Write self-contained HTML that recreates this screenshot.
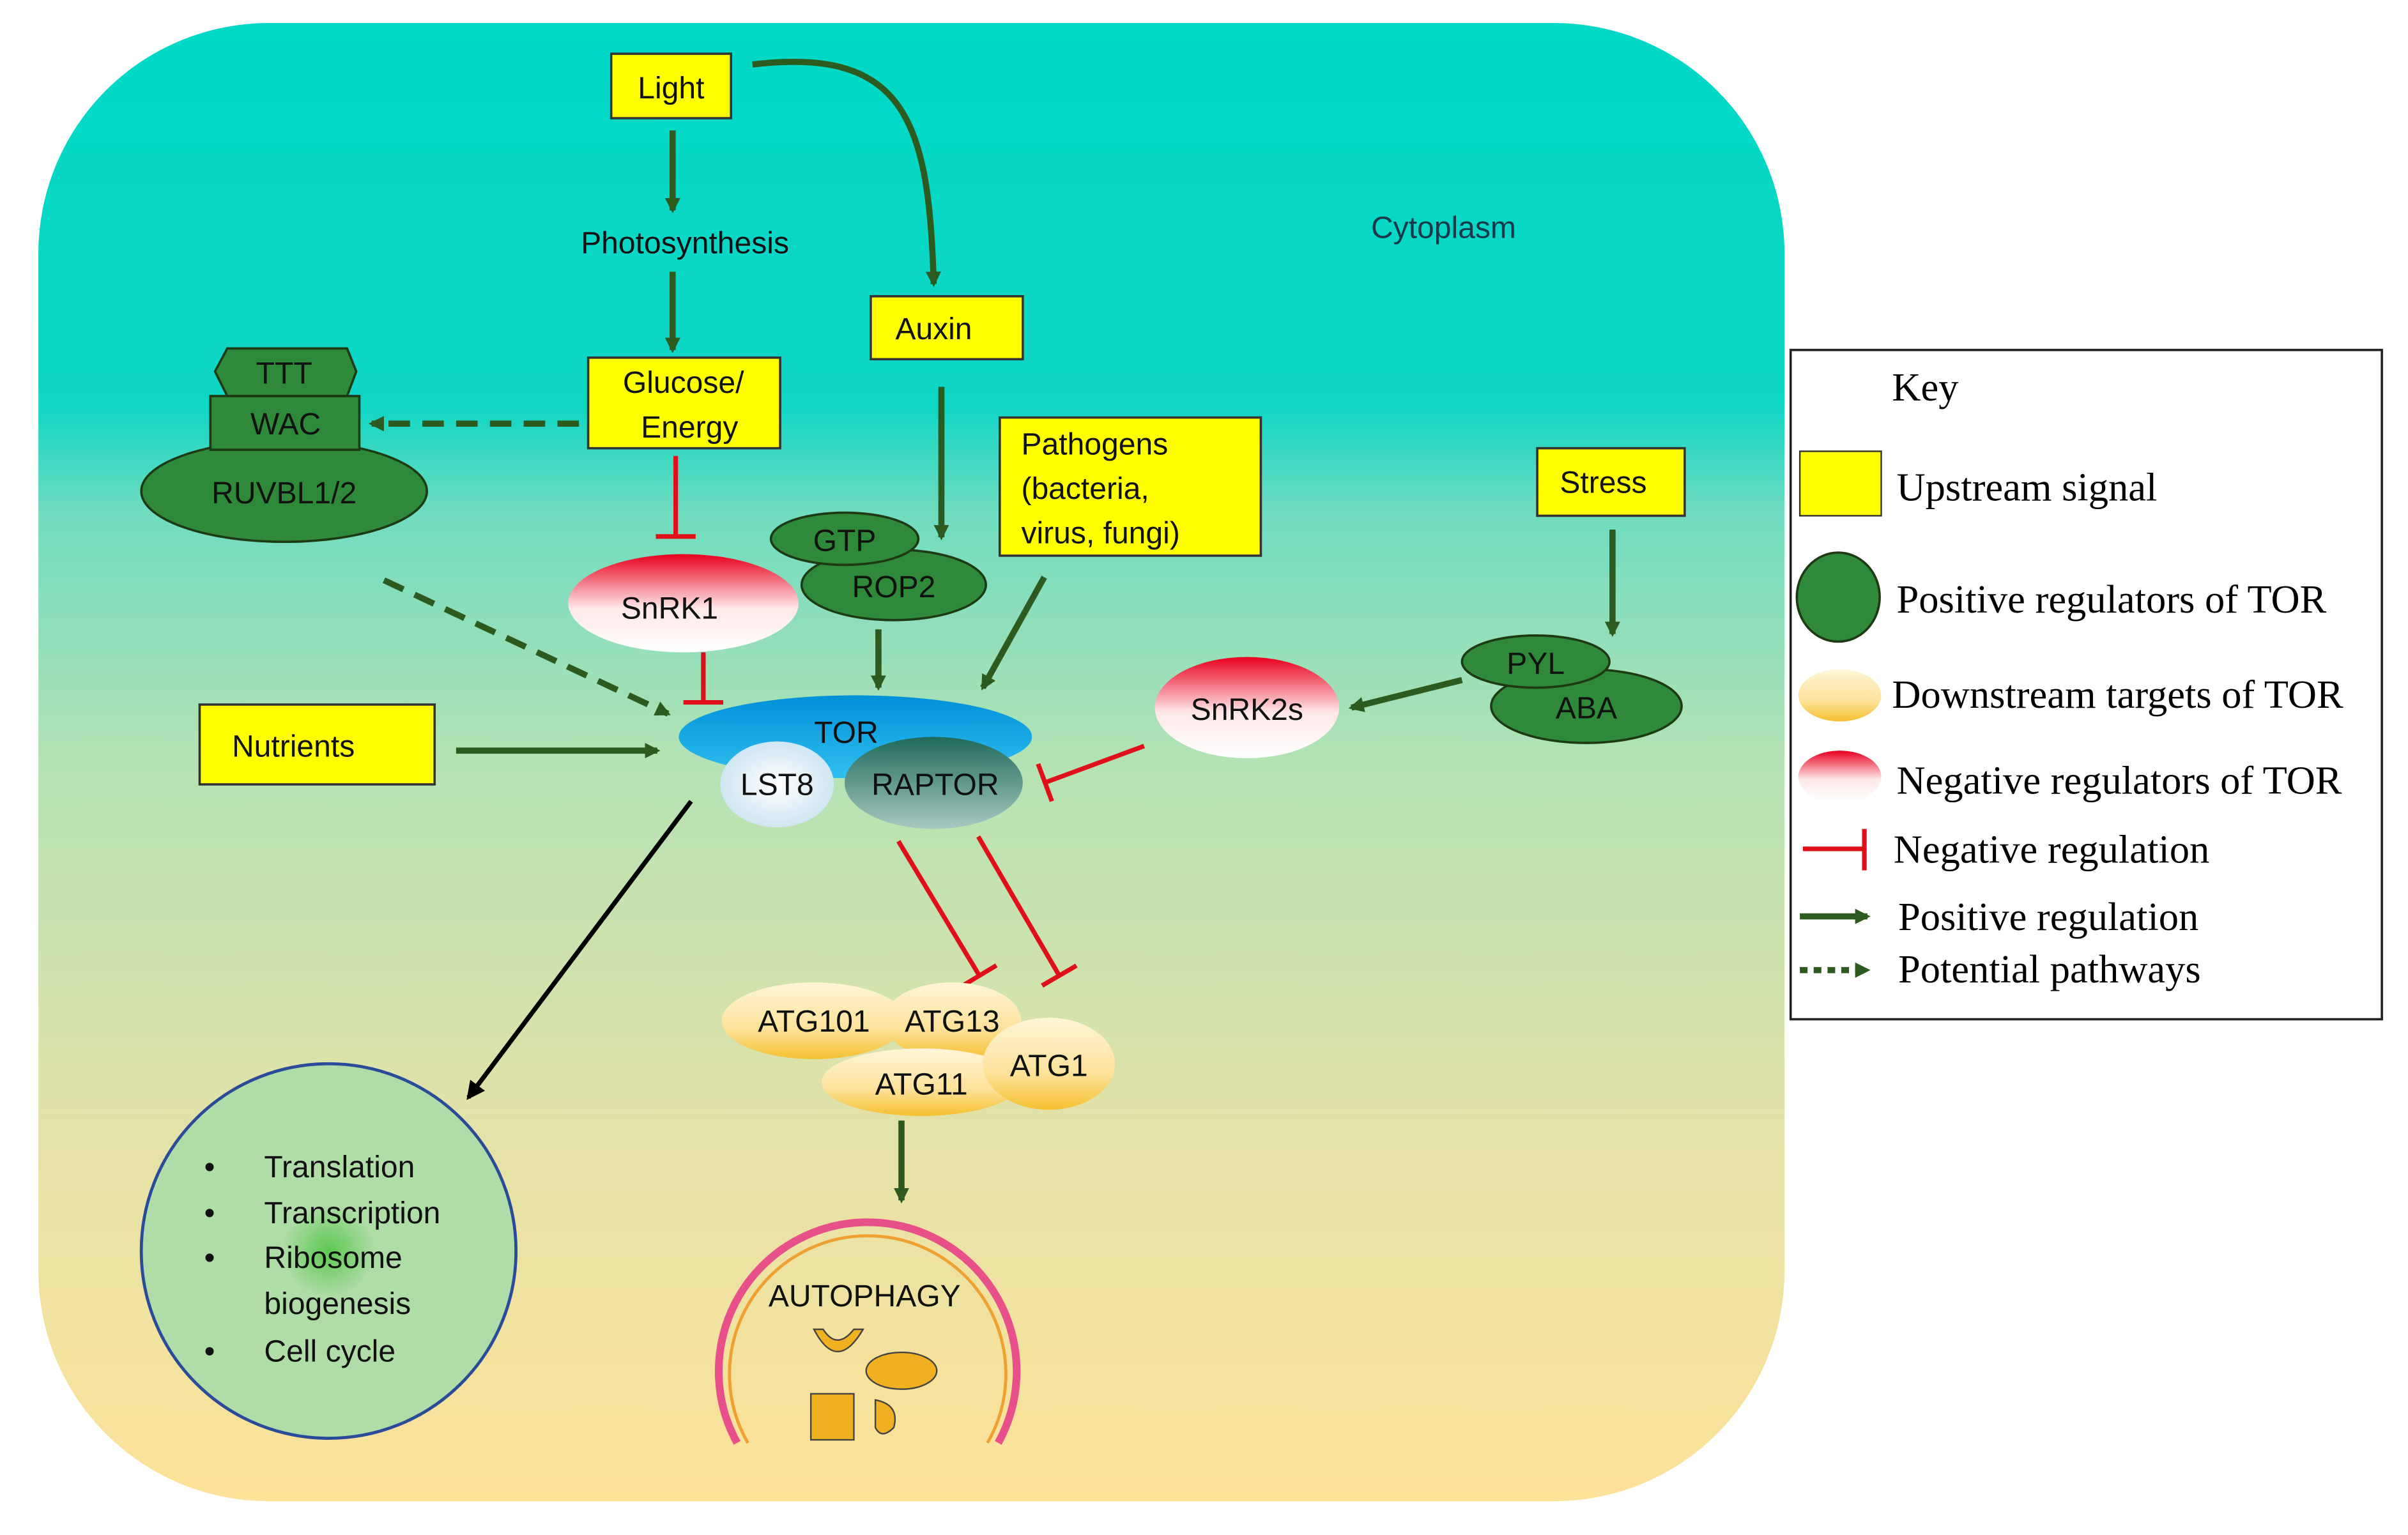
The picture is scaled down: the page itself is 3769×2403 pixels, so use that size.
<!DOCTYPE html>
<html><head><meta charset="utf-8"><style>
html,body{margin:0;padding:0;background:#fff;}
svg{display:block;}
text{font-family:"Liberation Sans",sans-serif;}
.s{font-family:"Liberation Serif",serif;font-size:26px;fill:#000;}
</style></head><body>
<svg width="3769" height="2403" viewBox="0 0 1568 1000" preserveAspectRatio="none" xmlns="http://www.w3.org/2000/svg">
<defs>
<linearGradient id="bg" x1="0" y1="0" x2="0" y2="1">
<stop offset="0" stop-color="#00d8c6"/>
<stop offset="0.26" stop-color="#10d6c4"/>
<stop offset="0.33" stop-color="#6fdcc0"/>
<stop offset="0.5" stop-color="#b4e2b4"/>
<stop offset="0.75" stop-color="#e4e2a8"/>
<stop offset="1" stop-color="#fde298"/>
</linearGradient>
<linearGradient id="red" x1="0" y1="0" x2="0" y2="1">
<stop offset="0" stop-color="#e8001e"/><stop offset="0.55" stop-color="#ffe8e8"/><stop offset="1" stop-color="#ffffff"/>
</linearGradient>
<linearGradient id="yel" x1="0" y1="0" x2="0" y2="1">
<stop offset="0" stop-color="#fff6d8"/><stop offset="0.6" stop-color="#fde29a"/><stop offset="1" stop-color="#f5c030"/>
</linearGradient>
<linearGradient id="tor" x1="0" y1="0" x2="0" y2="1">
<stop offset="0" stop-color="#0090d8"/><stop offset="1" stop-color="#30c0f0"/>
</linearGradient>
<linearGradient id="rap" x1="0" y1="0" x2="0" y2="1">
<stop offset="0" stop-color="#1f6a5a"/><stop offset="1" stop-color="#a8c8c0"/>
</linearGradient>
<radialGradient id="lst"><stop offset="0" stop-color="#ffffff"/><stop offset="1" stop-color="#cfe6f2"/></radialGradient>
<radialGradient id="gc"><stop offset="0" stop-color="#5cc850"/><stop offset="0.25" stop-color="#b0dca8"/><stop offset="1" stop-color="#b0dca8"/></radialGradient>
<marker id="ag" markerWidth="10" markerHeight="10" refX="8" refY="5" orient="auto" markerUnits="userSpaceOnUse"><path d="M0,0 L10,5 L0,10 Z" fill="#2d5a1e"/></marker>
<marker id="ak" markerWidth="12" markerHeight="12" refX="10" refY="6" orient="auto" markerUnits="userSpaceOnUse"><path d="M0,0 L12,6 L0,12 Z" fill="#000"/></marker>
<marker id="tr" markerWidth="4" markerHeight="26" refX="2" refY="13" orient="auto" markerUnits="userSpaceOnUse"><rect x="0" y="0" width="3" height="26" fill="#e0101a"/></marker>
</defs>
<rect x="25" y="15" width="1137" height="963" rx="150" fill="url(#bg)"/>
<text x="940" y="155" font-size="20" text-anchor="middle" fill="#163a4a">Cytoplasm</text>

<g stroke="#2d5a1e" stroke-width="4" fill="none" marker-end="url(#ag)">
<line x1="438" y1="85" x2="438" y2="137"/>
<line x1="438" y1="177" x2="438" y2="228"/>
<path d="M490,42 C590,30 605,80 608,185"/>
<line x1="613" y1="252" x2="613" y2="350"/>
<line x1="572" y1="410" x2="572" y2="448"/>
<line x1="680" y1="376" x2="640" y2="448"/>
<line x1="297" y1="489" x2="428" y2="489"/>
<line x1="1050" y1="345" x2="1050" y2="413"/>
<line x1="952" y1="443" x2="880" y2="461"/>
<line x1="587" y1="730" x2="587" y2="782"/>
<line x1="377" y1="276" x2="242" y2="276" stroke-dasharray="14,8"/>
<line x1="250" y1="378" x2="435" y2="465" stroke-dasharray="14,8"/>
</g>
<line x1="450" y1="522" x2="305" y2="715" stroke="#000" stroke-width="3" marker-end="url(#ak)"/>
<g stroke="#e0101a" stroke-width="3" fill="none" marker-end="url(#tr)">
<line x1="440" y1="297" x2="440" y2="350"/>
<line x1="458" y1="425" x2="458" y2="458"/>
<line x1="745" y1="486" x2="680" y2="510"/>
<line x1="585" y1="548" x2="638" y2="636"/>
<line x1="637" y1="545" x2="690" y2="636"/>
</g>

<g stroke="#333" stroke-width="1.5" fill="#ffff00">
<rect x="398" y="35" width="78" height="42"/>
<rect x="383" y="233" width="125" height="59"/>
<rect x="567" y="193" width="99" height="41"/>
<rect x="651" y="272" width="170" height="90"/>
<rect x="1001" y="292" width="96" height="44"/>
<rect x="130" y="459" width="153" height="52"/>
</g>
<g font-size="20" fill="#111">
<text x="437" y="64" text-anchor="middle">Light</text>
<text x="446" y="165" text-anchor="middle">Photosynthesis</text>
<text x="445" y="256" text-anchor="middle">Glucose/</text>
<text x="449" y="285" text-anchor="middle">Energy</text>
<text x="608" y="221" text-anchor="middle">Auxin</text>
<text x="665" y="296">Pathogens</text>
<text x="665" y="325">(bacteria,</text>
<text x="665" y="354">virus, fungi)</text>
<text x="1044" y="321" text-anchor="middle">Stress</text>
<text x="191" y="493" text-anchor="middle">Nutrients</text>
</g>

<g stroke="#1e3a14" stroke-width="1.5" fill="#2e8a3a">
<ellipse cx="185" cy="320" rx="93" ry="33"/>
<rect x="137" y="258" width="97" height="35"/>
<polygon points="148,227 226,227 232,242 226,258 148,258 140,242"/>
<ellipse cx="1033" cy="460" rx="62" ry="24"/>
<ellipse cx="1000" cy="431" rx="48" ry="17"/>
<ellipse cx="582" cy="381" rx="60" ry="23"/>
<ellipse cx="550" cy="351" rx="48" ry="17"/>
</g>
<g font-size="20" fill="#111" text-anchor="middle">
<text x="185" y="250">TTT</text>
<text x="186" y="283">WAC</text>
<text x="185" y="328">RUVBL1/2</text>
<text x="1033" y="468">ABA</text>
<text x="1000" y="439">PYL</text>
<text x="582" y="389">ROP2</text>
<text x="550" y="359">GTP</text>
</g>

<ellipse cx="445" cy="393" rx="75" ry="32" fill="url(#red)"/>
<text x="436" y="403" font-size="20" text-anchor="middle" fill="#111">SnRK1</text>
<ellipse cx="812" cy="461" rx="60" ry="33" fill="url(#red)"/>
<text x="812" y="469" font-size="20" text-anchor="middle" fill="#111">SnRK2s</text>

<ellipse cx="557" cy="480" rx="115" ry="27" fill="url(#tor)"/>
<text x="551" y="484" font-size="20" text-anchor="middle" fill="#111">TOR</text>
<ellipse cx="506" cy="511" rx="37" ry="28" fill="url(#lst)"/>
<text x="506" y="518" font-size="20" text-anchor="middle" fill="#111">LST8</text>
<ellipse cx="608" cy="510" rx="58" ry="30" fill="url(#rap)"/>
<text x="609" y="518" font-size="20" text-anchor="middle" fill="#111">RAPTOR</text>

<ellipse cx="530" cy="665" rx="60" ry="25" fill="url(#yel)"/>
<ellipse cx="620" cy="665" rx="45" ry="25" fill="url(#yel)"/>
<ellipse cx="600" cy="705" rx="65" ry="22" fill="url(#yel)"/>
<ellipse cx="683" cy="693" rx="43" ry="30" fill="url(#yel)"/>
<g font-size="20" fill="#111" text-anchor="middle">
<text x="530" y="672">ATG101</text>
<text x="620" y="672">ATG13</text>
<text x="600" y="713">ATG11</text>
<text x="683" y="701">ATG1</text>
</g>

<path d="M480,940 A97,97 0 1,1 650,940" fill="none" stroke="#e8508a" stroke-width="5"/>
<path d="M487,940 A90,90 0 1,1 643,940" fill="none" stroke="#f0a030" stroke-width="2"/>
<text x="563" y="851" font-size="20" text-anchor="middle" fill="#111">AUTOPHAGY</text>
<path d="M530,866 Q545,895 562,866 L556,866 Q545,880 536,866 Z" fill="#f0b020" stroke="#444" stroke-width="1"/>
<ellipse cx="587" cy="893" rx="23" ry="12" fill="#f0b020" stroke="#444" stroke-width="1"/>
<rect x="528" y="908" width="28" height="30" fill="#f0b020" stroke="#444" stroke-width="1"/>
<path d="M570,912 Q586,915 582,930 Q574,938 570,930 Z" fill="#f0b020" stroke="#444" stroke-width="1"/>

<circle cx="214" cy="815" r="122" fill="url(#gc)" stroke="#2a4a9a" stroke-width="2"/>
<g font-size="20" fill="#111">
<text x="133" y="767">•</text><text x="172" y="767">Translation</text>
<text x="133" y="797">•</text><text x="172" y="797">Transcription</text>
<text x="133" y="826">•</text><text x="172" y="826">Ribosome</text>
<text x="172" y="856">biogenesis</text>
<text x="133" y="887">•</text><text x="172" y="887">Cell cycle</text>
</g>

<rect x="1166" y="228" width="385" height="436" fill="#fff" stroke="#222" stroke-width="1.5"/>
<text class="s" x="1232" y="261">Key</text>
<rect x="1172" y="294" width="53" height="42" fill="#ffff00" stroke="#333" stroke-width="1"/>
<text class="s" x="1235" y="326">Upstream signal</text>
<ellipse cx="1197" cy="389" rx="27" ry="29" fill="#2e8a3a" stroke="#1e3a14" stroke-width="1.5"/>
<text class="s" x="1235" y="399">Positive regulators of TOR</text>
<ellipse cx="1198" cy="453" rx="27" ry="17" fill="url(#yel)"/>
<text class="s" x="1232" y="461">Downstream targets of TOR</text>
<ellipse cx="1198" cy="506" rx="27" ry="17" fill="url(#red)"/>
<text class="s" x="1235" y="517">Negative regulators of TOR</text>
<line x1="1174" y1="553" x2="1214" y2="553" stroke="#e0101a" stroke-width="3"/>
<line x1="1214" y1="540" x2="1214" y2="567" stroke="#e0101a" stroke-width="3"/>
<text class="s" x="1233" y="562">Negative regulation</text>
<line x1="1172" y1="597" x2="1216" y2="597" stroke="#2d5a1e" stroke-width="4" marker-end="url(#ag)"/>
<text class="s" x="1236" y="606">Positive regulation</text>
<line x1="1172" y1="632" x2="1216" y2="632" stroke="#2d5a1e" stroke-width="4" stroke-dasharray="5,4" marker-end="url(#ag)"/>
<text class="s" x="1236" y="640">Potential pathways</text>
</svg>
</body></html>
